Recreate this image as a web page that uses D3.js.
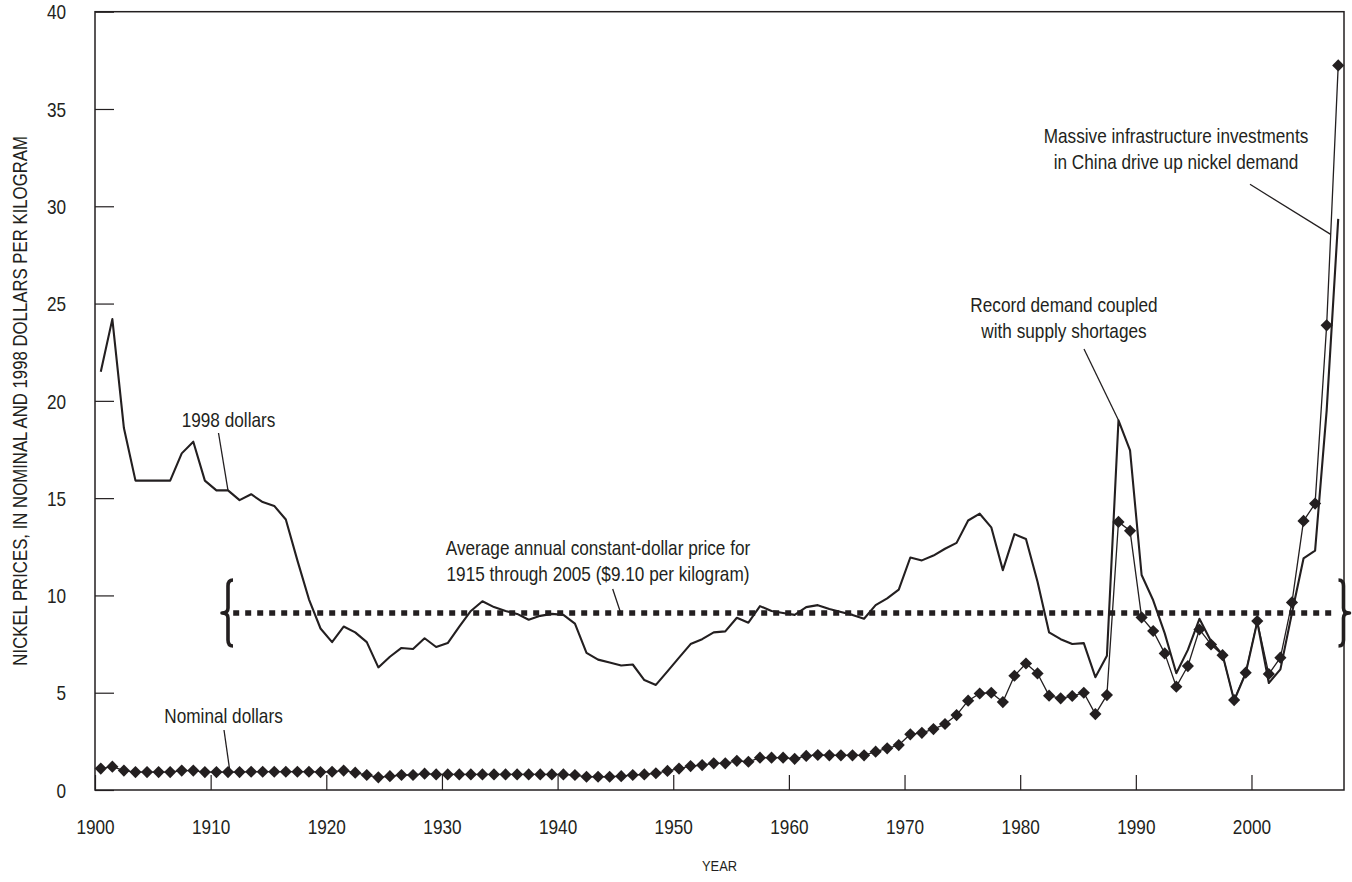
<!DOCTYPE html>
<html>
<head>
<meta charset="utf-8">
<script src="https://cdn.jsdelivr.net/npm/d3@7"></script>
<style>
  html, body { margin: 0; padding: 0; background: #ffffff; }
  svg text {
    font-family: "Liberation Sans", Arial, sans-serif;
    fill: #231f20;
  }
</style>
</head>
<body>
<svg id="chart" width="1352" height="882"></svg>
<script>
// Nickel prices, dollars per kilogram, one value per year starting in 1900
const firstYear = 1900;

// Constant (1998) dollars, 1900-2007
const realPrice = [
  21.5, 24.2, 18.6, 15.9, 15.9, 15.9, 15.9, 17.3, 17.9, 15.9,   // 1900s
  15.4, 15.4, 14.9, 15.2, 14.8, 14.6, 13.9, 11.8, 9.8, 8.3,     // 1910s
  7.6, 8.4, 8.1, 7.6, 6.3, 6.85, 7.3, 7.25, 7.8, 7.35,          // 1920s
  7.55, 8.4, 9.2, 9.7, 9.4, 9.2, 9.05, 8.75, 8.95, 9.05,        // 1930s
  9.0, 8.55, 7.05, 6.7, 6.55, 6.4, 6.45, 5.65, 5.4, 6.1,        // 1940s
  6.8, 7.5, 7.75, 8.1, 8.15, 8.85, 8.6, 9.45, 9.2, 9.1,         // 1950s
  9.0, 9.4, 9.5, 9.3, 9.15, 9.0, 8.8, 9.5, 9.85, 10.3,          // 1960s
  11.95, 11.8, 12.05, 12.4, 12.7, 13.85, 14.2, 13.5, 11.3, 13.15, // 1970s
  12.9, 10.7, 8.1, 7.75, 7.5, 7.55, 5.8, 6.9, 19.0, 17.45,      // 1980s
  11.05, 9.75, 8.05, 6.0, 7.2, 8.8, 7.65, 6.95, 4.6, 6.0,       // 1990s
  8.65, 5.5, 6.2, 9.1, 11.9, 12.3, 19.5, 29.35                  // 2000-2007
];

// Nominal dollars, 1900-2007
const nominalPrice = [
  1.1, 1.2, 1.0, 0.92, 0.92, 0.92, 0.92, 1.0, 1.0, 0.92,        // 1900s
  0.92, 0.92, 0.92, 0.94, 0.94, 0.94, 0.94, 0.94, 0.94, 0.92,   // 1910s
  0.94, 1.0, 0.89, 0.77, 0.65, 0.71, 0.77, 0.77, 0.84, 0.8,     // 1920s
  0.8, 0.8, 0.8, 0.8, 0.8, 0.8, 0.8, 0.8, 0.8, 0.8,             // 1930s
  0.8, 0.77, 0.68, 0.68, 0.68, 0.71, 0.77, 0.8, 0.86, 0.98,     // 1940s
  1.1, 1.23, 1.28, 1.37, 1.37, 1.5, 1.45, 1.66, 1.66, 1.66,     // 1950s
  1.6, 1.75, 1.8, 1.78, 1.78, 1.78, 1.78, 1.97, 2.14, 2.31,     // 1960s
  2.86, 2.94, 3.13, 3.39, 3.85, 4.59, 4.96, 5.0, 4.52, 5.87,    // 1970s
  6.5, 5.99, 4.85, 4.71, 4.83, 5.0, 3.9, 4.88, 13.78, 13.32,    // 1980s
  8.87, 8.17, 7.02, 5.31, 6.37, 8.25, 7.48, 6.93, 4.62, 6.03,   // 1990s
  8.68, 5.96, 6.8, 9.64, 13.83, 14.72, 23.88, 37.24             // 2000-2007
];

// Average annual constant-dollar price, 1915 through 2005
const averagePrice = 9.10;

const xTickYears = [1900, 1910, 1920, 1930, 1940, 1950, 1960, 1970, 1980, 1990, 2000];
const yTickValues = [0, 5, 10, 15, 20, 25, 30, 35, 40];

// ---------------------------------------------------------------------------
const ink = "#231f20";
const narrow = 0.86;          // horizontal squeeze for a condensed face
const textSize = 20;
const svg = d3.select("#chart");

const plot = { left: 95, right: 1344, top: 11.7, bottom: 790 };

const x = d3.scaleLinear().domain([1900, 2008]).range([plot.left, plot.right]);
const y = d3.scaleLinear().domain([0, 40]).range([plot.bottom, plot.top]);

// annual values are plotted at mid-year
const toPoints = arr => arr.map((v, i) => ({ year: firstYear + i + 0.5, value: v }));
const realPts = toPoints(realPrice);
const nominalPts = toPoints(nominalPrice);

// Axes with inward ticks
const yAxis = d3.axisLeft(y).tickValues(yTickValues).tickSize(-19).tickFormat(d3.format("d"));
const xAxis = d3.axisBottom(x).tickValues(xTickYears).tickSize(-15).tickFormat(d3.format("d"));

const gy = svg.append("g").attr("transform", `translate(${plot.left},0)`).call(yAxis);
const gx = svg.append("g").attr("transform", `translate(0,${plot.bottom})`).call(xAxis);
[gy, gx].forEach(g => {
  g.select(".domain").remove();
  g.selectAll(".tick line").attr("stroke", ink).attr("stroke-width", 1.2);
  g.selectAll(".tick text").attr("font-size", textSize).attr("fill", ink);
});
gy.selectAll(".tick text")
  .attr("x", null).attr("dy", "0.36em")
  .attr("transform", `translate(-29,0) scale(${narrow},1)`);
gx.selectAll(".tick text")
  .attr("y", null).attr("dy", "0.71em")
  .attr("transform", `translate(0,30) scale(${narrow},1)`);

// Plot frame
svg.append("rect")
  .attr("x", plot.left).attr("y", plot.top)
  .attr("width", plot.right - plot.left).attr("height", plot.bottom - plot.top)
  .attr("fill", "none").attr("stroke", ink).attr("stroke-width", 1.5);

// Condensed text helper
function say(str, cx, cy, size, rotate) {
  return svg.append("text")
    .attr("transform", `translate(${cx},${cy})${rotate ? ` rotate(${rotate})` : ""} scale(${narrow},1)`)
    .attr("text-anchor", "middle").attr("font-size", size)
    .text(str);
}

// Axis titles
say("YEAR", (plot.left + plot.right) / 2, 871, 15);
say("NICKEL PRICES, IN NOMINAL AND 1998 DOLLARS PER KILOGRAM",
    27, (plot.top + plot.bottom) / 2, 19.5, -90);

// Average price: dotted line bracketed by braces
const yAvg = y(averagePrice);
const avgFrom = x(1911.95), avgTo = x(2007.3);
svg.append("line")
  .attr("x1", avgFrom).attr("x2", avgTo)
  .attr("y1", yAvg).attr("y2", yAvg)
  .attr("stroke", ink).attr("stroke-width", 5.5)
  .attr("stroke-dasharray", "6,6");

function brace(cx, cy, dir) {
  // dir = 1 opens to the right ("{"), dir = -1 opens to the left ("}")
  const h = 33, w = 5, tip = 6;
  const p = d3.path();
  p.moveTo(cx + dir * w, cy - h);
  p.quadraticCurveTo(cx, cy - h, cx, cy - h + 6);
  p.lineTo(cx, cy - 5);
  p.quadraticCurveTo(cx, cy, cx - dir * tip, cy);
  p.quadraticCurveTo(cx, cy, cx, cy + 5);
  p.lineTo(cx, cy + h - 6);
  p.quadraticCurveTo(cx, cy + h, cx + dir * w, cy + h);
  return p.toString();
}
svg.append("path").attr("d", brace(228, yAvg, 1))
  .attr("fill", "none").attr("stroke", ink).attr("stroke-width", 3.6)
  .attr("stroke-linejoin", "round");
svg.append("path").attr("d", brace(1343.5, yAvg, -1))
  .attr("fill", "none").attr("stroke", ink).attr("stroke-width", 3.6)
  .attr("stroke-linejoin", "round");

// Series lines
const line = d3.line().x(d => x(d.year)).y(d => y(d.value));

svg.append("path").datum(nominalPts).attr("d", line)
  .attr("fill", "none").attr("stroke", ink).attr("stroke-width", 1.3)
  .attr("stroke-linejoin", "round");

svg.append("path").datum(realPts).attr("d", line)
  .attr("fill", "none").attr("stroke", ink).attr("stroke-width", 2.1)
  .attr("stroke-linejoin", "round");

// Nominal markers (diamonds)
const diamond = d3.symbol().type(d3.symbolSquare).size(74);
svg.append("g").selectAll("path").data(nominalPts).join("path")
  .attr("d", diamond)
  .attr("transform", d => `translate(${x(d.year)},${y(d.value)}) rotate(45)`)
  .attr("fill", ink);

// Annotations
const valueAt = (pts, yr) => pts[yr - firstYear];
function leader(x1, y1, x2, y2) {
  svg.append("line").attr("x1", x1).attr("y1", y1).attr("x2", x2).attr("y2", y2)
    .attr("stroke", ink).attr("stroke-width", 1.3);
}
function label(lines, cx, baseline, lh) {
  lines.forEach((s, i) => say(s, cx, baseline + i * lh, textSize));
}

// 1998 dollars
label(["1998 dollars"], 228.5, 427, 0);
{
  const p = valueAt(realPts, 1911);
  leader(218.5, 433, x(p.year), y(p.value));
}

// Nominal dollars
label(["Nominal dollars"], 223.5, 723, 0);
{
  const p = valueAt(nominalPts, 1911);
  leader(224, 730, x(p.year) + 2, y(p.value));
}

// Average
label(["Average annual constant-dollar price for",
       "1915 through 2005 ($9.10 per kilogram)"], 598, 555, 25.5);
leader(612.7, 589, 620.7, yAvg);

// Record demand
label(["Record demand coupled", "with supply shortages"], 1064, 312, 25.5);
{
  const p = valueAt(realPts, 1988);
  leader(1084, 349, x(p.year), y(p.value));
}

// Massive infrastructure
label(["Massive infrastructure investments",
       "in China drive up nickel demand"], 1176, 143, 25.5);
{
  const a = valueAt(nominalPts, 2006), b = valueAt(nominalPts, 2007);
  const t = 0.35;
  leader(1250, 184.3,
    x(a.year) + t * (x(b.year) - x(a.year)),
    y(a.value) + t * (y(b.value) - y(a.value)));
}
</script>
</body>
</html>
